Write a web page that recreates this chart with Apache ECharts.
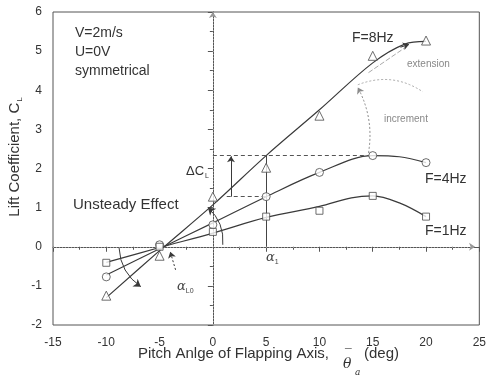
<!DOCTYPE html>
<html><head><meta charset="utf-8">
<script src="https://cdn.jsdelivr.net/npm/echarts@6/dist/echarts.min.js"></script>
<style>html,body{margin:0;padding:0;background:#fff}#c{width:489px;height:377px}</style>
</head><body><div id="c"></div>
<script>
// measured points
const pitch = [-10, -5, 0, 5, 10, 15, 20];
const cl8Hz = [-1.25, -0.23, 1.28, 2.02, 3.35, 4.88, 5.27];
const cl4Hz = [-0.77, 0.05, 0.56, 1.28, 1.90, 2.33, 2.15];
const cl1Hz = [-0.41, 0.00, 0.38, 0.77, 0.92, 1.30, 0.77];
// fitted curves
const fitX8 = [-10, -5, 0, 5, 10, 15, 18, 20];
const fit8Hz = [-1.30, -0.10, 1.07, 2.33, 3.50, 4.70, 5.18, 5.25];
const fitX4 = [-10, -5, 0, 5, 10, 15, 17.5, 20];
const fit4Hz = [-0.72, -0.05, 0.61, 1.28, 1.90, 2.33, 2.30, 2.15];
const fitX1 = [-10, -5, 0, 5, 10, 13, 15, 17.5, 20];
const fit1Hz = [-0.40, -0.02, 0.35, 0.75, 1.03, 1.25, 1.30, 1.12, 0.77];
// axes
const xRange = [-15, 25], xStep = 5;
const yRange = [-2, 6], yStep = 1;
// annotation reference values
const alpha1 = 5, clAt4Hz = 1.28, clAt8Hz = 2.33, peakX = 15;

const zip = (xs, ys) => xs.map((x, i) => [x, ys[i]]);
const ink = '#3a3a3a', grey = '#8a8a8a';
const F = 'Liberation Sans, Arial, sans-serif';

const chart = echarts.init(document.getElementById('c'));
const markerStyle = {color: '#fff', borderColor: '#4a4a4a', borderWidth: 1};

function arc(from, to, curv, opts) {
  opts = opts || {};
  return {
    type: 'lines', coordinateSystem: 'cartesian2d', silent: true, z: 3,
    symbol: opts.noArrow ? ['none', 'none'] : ['none', 'arrow'], symbolSize: opts.size || 7,
    lineStyle: {color: opts.color || ink, width: 1, type: opts.type || 'solid', curveness: curv, opacity: 1},
    data: [{coords: [from, to]}]
  };
}

const option = {
  animation: false,
  backgroundColor: '#fff',
  grid: {left: 53, right: 6, top: 12, bottom: 52, show: true, borderColor: '#555', borderWidth: 1},
  xAxis: {
    type: 'value', min: xRange[0], max: xRange[1], interval: xStep,
    axisLine: {lineStyle: {color: '#555'}},
    axisTick: {inside: false, length: 5, lineStyle: {color: '#555'}},
    minorTick: {show: true, splitNumber: 2, length: 3, lineStyle: {color: '#555'}},
    splitLine: {show: false},
    axisLabel: {color: '#333', fontSize: 12, fontFamily: F, margin: 12}
  },
  yAxis: {
    type: 'value', min: yRange[0], max: yRange[1], interval: yStep,
    axisLine: {show: true, lineStyle: {color: '#555'}},
    axisTick: {show: true, inside: false, length: 5, lineStyle: {color: '#555'}},
    minorTick: {show: true, splitNumber: 2, length: 3, lineStyle: {color: '#555'}},
    splitLine: {show: false},
    axisLabel: {color: '#333', fontSize: 12, fontFamily: F, margin: 11}
  },
  series: [
    {type: 'line', data: zip(fitX8, fit8Hz), smooth: 0.35, symbol: 'none', lineStyle: {color: ink, width: 1.2}, z: 4,
     markLine: {silent: true, symbol: 'none', label: {show: false}, animation: false,
       data: [
         [{coord: [0, clAt8Hz]}, {coord: [peakX, clAt8Hz]}],
         [{coord: [1.3, clAt4Hz]}, {coord: [alpha1, clAt4Hz]}]
       ],
       lineStyle: {color: '#555', type: [4, 3], width: 1}}},
    {type: 'line', data: zip(fitX4, fit4Hz), smooth: 0.35, symbol: 'none', lineStyle: {color: ink, width: 1.2}, z: 4,
     markLine: {silent: true, symbol: 'none', label: {show: false}, animation: false,
       data: [[{coord: [alpha1, 0]}, {coord: [alpha1, clAt8Hz]}]],
       lineStyle: {color: '#444', type: 'solid', width: 1}}},
    {type: 'line', data: zip(fitX1, fit1Hz), smooth: 0.35, symbol: 'none', lineStyle: {color: ink, width: 1.2}, z: 4},
    // dotted reference axes
    {type: 'lines', coordinateSystem: 'cartesian2d', silent: true, z: 2, symbol: ['none', 'arrow'], symbolSize: 6,
     lineStyle: {color: '#999', width: 1, type: [1, 2], opacity: 1},
     data: [{coords: [[0, yRange[0]], [0, yRange[1]]]}, {coords: [[xRange[0], 0], [24.6, 0]]}]},
    // delta CL arrow
    arc([1.7, clAt4Hz], [1.7, clAt8Hz - 0.02], 0, {size: 6}),
    // rotation arcs
    arc([-8.8, -0.03], [-6.76, -1.02], -0.25),
    arc([0.93, 0.05], [-0.46, 1.0], -0.25),
    arc([-3.5, -0.59], [-4.0, -0.13], 0, {type: [2, 2], size: 6}),
    arc([14.6, 2.4], [13.6, 4.07], -0.17, {color: grey, type: [2, 2], size: 6}),
    arc([13.6, 4.14], [19.7, 3.96], 0.26, {color: '#aaa', type: [2, 2], noArrow: true}),
    arc([14.6, 4.45], [18.2, 5.12], 0, {color: '#aaa', type: [5, 2], noArrow: true}),
    arc([17.6, 5.1], [18.4, 5.17], 0, {size: 6}),
    {type: 'scatter', data: zip(pitch, cl8Hz), symbol: 'triangle', symbolSize: 9, itemStyle: markerStyle, z: 5},
    {type: 'scatter', data: zip(pitch, cl4Hz), symbol: 'circle', symbolSize: 8, itemStyle: markerStyle, z: 5},
    {type: 'scatter', data: zip(pitch, cl1Hz), symbol: 'rect', symbolSize: 7, itemStyle: markerStyle, z: 5}
  ],
  graphic: [
    {type: 'text', left: 75, top: 26, style: {text: 'V=2m/s', font: '14px ' + F, fill: '#333'}},
    {type: 'text', left: 75, top: 45, style: {text: 'U=0V', font: '14px ' + F, fill: '#333'}},
    {type: 'text', left: 75, top: 64, style: {text: 'symmetrical', font: '14px ' + F, fill: '#333'}},
    {type: 'text', left: 73, top: 197, style: {text: 'Unsteady Effect', font: '15px ' + F, fill: '#333'}},
    {type: 'text', left: 352, top: 31, style: {text: 'F=8Hz', font: '14px ' + F, fill: '#333'}},
    {type: 'text', left: 425, top: 172, style: {text: 'F=4Hz', font: '14px ' + F, fill: '#333'}},
    {type: 'text', left: 425, top: 224, style: {text: 'F=1Hz', font: '14px ' + F, fill: '#333'}},
    {type: 'text', left: 407, top: 59, style: {text: 'extension', font: '10px ' + F, fill: '#888'}},
    {type: 'text', left: 384, top: 114, style: {text: 'increment', font: '10px ' + F, fill: '#888'}},
    {type: 'text', left: 186, top: 165, style: {text: '{m|ΔC}{s|L}', rich: {m: {font: '13px ' + F, fill: '#333'}, s: {font: '7px ' + F, fill: '#333', padding: [9, 0, 0, 1]}}}},
    {type: 'text', left: 266, top: 251, style: {text: '{m|α}{s|1}', rich: {m: {font: 'italic 13px DejaVu Serif', fill: '#444'}, s: {font: '7px ' + F, fill: '#444', padding: [9, 0, 0, 0]}}}},
    {type: 'text', left: 177, top: 280, style: {text: '{m|α}{s|L0}', rich: {m: {font: 'italic 13px DejaVu Serif', fill: '#444'}, s: {font: '7px ' + F, fill: '#444', padding: [9, 0, 0, 0]}}}},
    // x axis title
    {type: 'text', left: 138, top: 346, style: {text: 'Pitch Anlge of Flapping Axis,', font: '15px ' + F, fill: '#333'}},
    {type: 'text', left: 343, top: 357, style: {text: 'θ', font: 'italic 14px DejaVu Serif', fill: '#333'}},
    {type: 'text', left: 345, top: 349, style: {text: '¯', font: '12px ' + F, fill: '#333'}},
    {type: 'text', left: 355, top: 368, style: {text: 'a', font: 'italic 9px DejaVu Serif', fill: '#333'}},
    {type: 'text', left: 364, top: 346, style: {text: '(deg)', font: '15px ' + F, fill: '#333'}},
    // y axis title
    {type: 'text', x: 15, y: 157, rotation: Math.PI / 2,
     style: {text: '{m|Lift Coefficient, C}{s|L}', align: 'center', verticalAlign: 'middle',
       rich: {m: {font: '15px ' + F, fill: '#333'}, s: {font: '8px ' + F, fill: '#333', padding: [10, 0, 0, 1]}}}}
  ]
};
chart.setOption(option);
</script></body></html>
